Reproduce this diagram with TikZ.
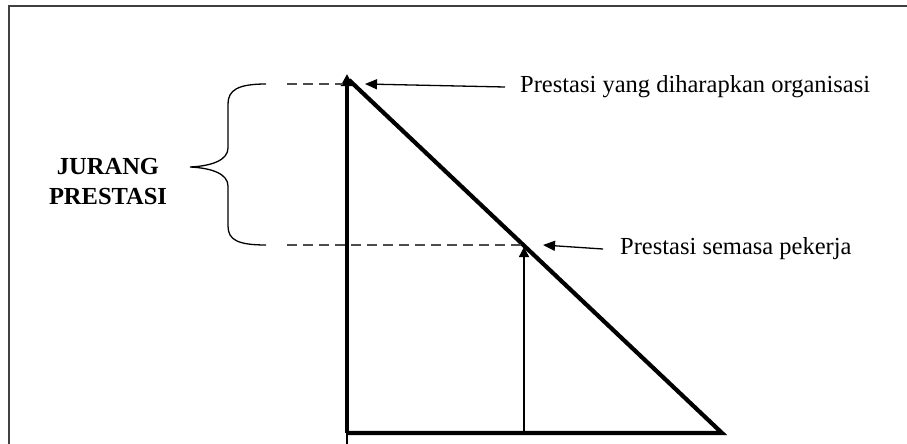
\documentclass[tikz,border=0pt]{standalone}
\usepackage{fontspec}
\setmainfont{Liberation Serif}
\usetikzlibrary{arrows.meta}
\begin{document}
\begin{tikzpicture}[x=1pt,y=-1pt,
  thickline/.style={line width=4.2pt},
  thinline/.style={line width=1.3pt},
  dashline/.style={line width=1.3pt, draw=black!70, dash pattern=on 10pt off 6pt},
  lbl/.style={font=\fontsize{24.5}{30}\selectfont, inner sep=0pt, anchor=west},
  arr/.style={thinline, -{Triangle[length=12pt,width=10pt]}}]
\useasboundingbox (0,0) rectangle (907,444);
\draw[line width=2pt, draw=black!75] (9,6) rectangle (930,470);
% coordinates
\coordinate (apex) at (347,74);
\coordinate (hyptop) at (349,80);
\coordinate (bl) at (347,433);
\coordinate (br) at (722,433);
\coordinate (mid) at (524,247);
\coordinate (midbase) at (524,433);
\coordinate (vbot) at (347,444);
% triangle
\draw[line width=1.5pt] (bl) -- (vbot);
\draw[thickline, -{Triangle[length=12pt,width=12pt]}] (bl) -- (apex);
\draw[thickline, line join=miter] (hyptop) -- (br) -- (bl);
% thin upward arrow
\draw[thinline, -{Triangle[length=10pt,width=10pt]}] (midbase) -- (mid);
% dashed lines
\coordinate (d1a) at (287,84);
\coordinate (d1b) at (343,84);
\coordinate (d2a) at (287,245);
\coordinate (d2b) at (522,245);
\draw[dashline] (d1a) -- (d1b);
\draw[dashline] (d2a) -- (d2b);
% labels
\node[lbl] (t1) at (520,87) {Prestasi yang diharapkan organisasi};
\node[lbl] (t2) at (620,249) {Prestasi semasa pekerja};
\coordinate (a1) at (365,84);
\coordinate (a2) at (543,245);
\draw[arr] ([xshift=-15pt]t1.west) -- (a1);
\draw[arr] ([xshift=-17pt]t2.west) -- (a2);
% brace
\draw[line width=1.3pt] (266,84) .. controls (238,84) and (228,90) .. (228,104)
  -- (228,148) .. controls (228,160) and (212,166) .. (190,167)
  .. controls (212,168) and (228,174) .. (228,186)
  -- (228,226) .. controls (228,240) and (238,245) .. (266,245);
\node[font=\fontsize{24.5}{30}\selectfont\bfseries, align=center, inner sep=0pt] (jp) at (108,182) {JURANG\\PRESTASI};
\end{tikzpicture}
\end{document}
